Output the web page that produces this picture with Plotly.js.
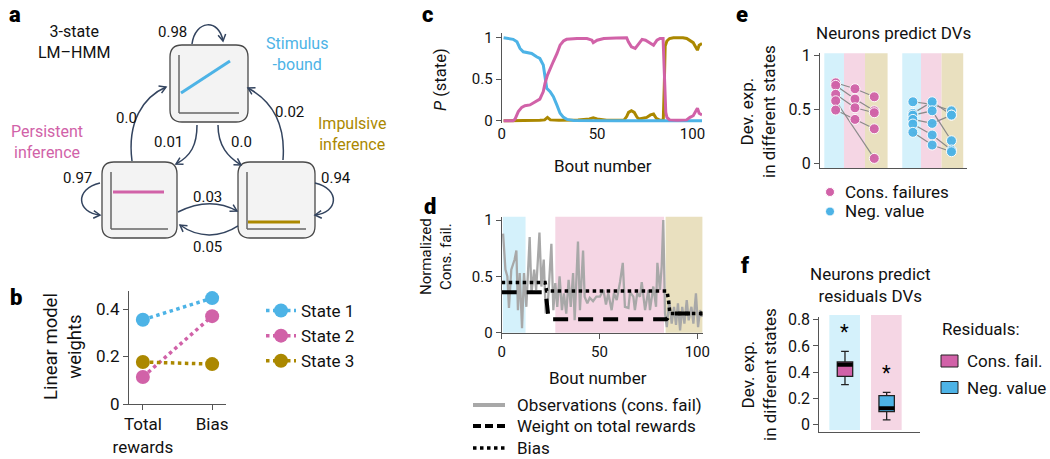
<!DOCTYPE html>
<html><head><meta charset="utf-8">
<script src="https://cdn.plot.ly/plotly-3.0.1.min.js"></script>
<style>html,body{margin:0;padding:0;background:#fff;} #chart{width:1050px;height:459px;}</style>
</head><body><div id="chart"></div>
<script>
// ================= DATA =================
// Panel b: linear model weights per state
const weightCategories = ['Total rewards', 'Bias'];
const weightTickLabels = ['Total<br>rewards', 'Bias'];
const stateNames = ['State 1', 'State 2', 'State 3'];
const state1Weights = [0.355, 0.446];
const state2Weights = [0.114, 0.37];
const state3Weights = [0.177, 0.168];

// Panel c: posterior state probabilities vs bout number
const pBoutS1 = [1, 3, 6, 8, 9.6, 11.3, 13, 15.7, 18.3, 20, 21.8, 22.7, 23.6, 25.4, 27.1, 28.9, 30.6, 32.4, 34.2, 37.7, 45, 60, 80, 90, 100, 105];
const pS1 = [1.0, 0.995, 0.98, 0.95, 0.87, 0.83, 0.82, 0.81, 0.77, 0.75, 0.67, 0.53, 0.39, 0.35, 0.29, 0.19, 0.09, 0.04, 0.016, 0.004, 0, 0, 0, 0, 0, 0];
const pBoutS2 = [1, 6, 7, 8.7, 10.5, 12.2, 14.8, 17.5, 20, 21.8, 22.7, 24, 25.4, 27, 29, 30.6, 32.4, 34, 39.5, 44.7, 47.3, 48, 50, 53.5, 60, 65.5, 66.4, 68, 70, 72, 73.6, 75.4, 78, 79.6, 81.4, 83, 84.6, 85.2, 86, 86.6, 88, 92, 96.9, 98.7, 100.4, 102.6, 103.5, 105];
const pS2 = [0, 0, 0.02, 0.11, 0.16, 0.18, 0.19, 0.23, 0.26, 0.35, 0.45, 0.55, 0.63, 0.71, 0.81, 0.91, 0.96, 0.98, 0.99, 0.99, 0.97, 0.94, 0.97, 0.99, 0.995, 1.0, 0.95, 0.89, 0.87, 0.93, 0.98, 0.97, 0.93, 0.91, 0.97, 0.99, 0.99, 0.6, 0.1, 0.04, 0.01, 0.005, 0.01, 0.04, 0.06, 0.15, 0.09, 0.07];
const pBoutS3 = [1, 6, 20, 22.5, 24, 25.5, 30, 40, 46, 48, 50, 55, 64, 65.5, 66.5, 68, 69.5, 71, 72, 76, 78, 79.6, 81, 83, 84.7, 85.2, 85.7, 86.6, 88, 90, 95, 97, 98.7, 100.4, 102.6, 103.5, 105];
const pS3 = [0, 0, 0.005, 0.01, 0.04, 0.01, 0.005, 0.01, 0.02, 0.035, 0.02, 0.005, 0.005, 0.05, 0.1, 0.12, 0.1, 0.04, 0.02, 0.04, 0.07, 0.08, 0.03, 0.005, 0.01, 0.4, 0.9, 0.96, 0.99, 1.0, 1.0, 0.99, 0.96, 0.94, 0.85, 0.91, 0.93];

// Panel d: observations and model weights
const obsBout = [0.7,1.9,2.9,3.7,4.9,6.6,7.5,8.3,9.2,10.4,11.4,12.6,14.3,15.2,16.6,17.6,19.3,20.3,21.5,22.5,23.7,25.4,26.4,27.4,28.4,29.6,30.8,31.8,33,34.2,35.3,36.5,37.3,39,40,41.6,42.4,43.8,45,46.7,48.4,50.2,52,53.3,54.5,56.2,57.4,58.8,60.5,61.9,63,64.8,65.6,67.3,68.1,69.3,70.7,71.6,73.3,75,75.8,77.5,78.9,79.6,80.9,81.8,82.6,83.5,84.4,85.7,86.9,88.1,89.1,90.1,91.2,92.3,93.4,94.6,95.6,97,98,99.3,100.4,101.4,102.4];
const obsValue = [0.88,0.56,0.50,0.22,0.56,0.65,0.73,0.20,0.53,0.04,0.53,0.23,0.85,0.35,0.56,0.38,0.89,0.41,0.65,0.17,0.29,0.79,0.20,0.44,0.23,0.50,0.20,0.35,0.17,0.47,0.23,0.53,0.11,0.81,0.20,0.73,0.32,0.26,0.31,0.28,0.32,0.32,0.38,0.25,0.35,0.20,0.35,0.29,0.45,0.62,0.23,0.22,0.36,0.32,0.20,0.35,0.32,0.45,0.20,0.38,0.20,0.41,0.23,0.62,0.38,0.59,1.0,0.17,0.05,0.29,0.08,0.23,0.07,0.26,0.02,0.23,0.08,0.29,0.11,0.23,0.08,0.35,0.05,0.20,0.14];
const rewardWeightBout = [0, 22, 22.6, 23.2, 24, 84.2, 84.8, 85.5, 86.2, 102.7];
const rewardWeightValue = [0.36, 0.36, 0.34, 0.2, 0.12, 0.12, 0.13, 0.16, 0.17, 0.17];
const biasBout = [0, 22.2, 23, 84.5, 85.2, 86, 102.7];
const biasValue = [0.445, 0.445, 0.37, 0.37, 0.3, 0.17, 0.17];
const stateSegStart = [0.6, 27.4, 83.8];
const stateSegEnd = [12.2, 83.0, 102.7];
const legendLabelsD = ['Observations (cons. fail)', 'Weight on total rewards', 'Bias'];

// Panel e: deviance explained per neuron in each state
const consFailS1 = [0.748, 0.724, 0.641, 0.581, 0.495];
const consFailS2 = [0.693, 0.597, 0.516, null, 0.408];
const consFailS3 = [0.618, 0.488, 0.470, 0.046, 0.321];
const negValueS1 = [0.572, 0.464, 0.448, 0.408, 0.365, 0.288];
const negValueS2 = [0.548, 0.572, 0.488, 0.371, 0.263, 0.170];
const negValueS3 = [0.488, 0.448, 0.210, 0.448, 0.124, 0.108];
const consFailPositions = [1, 2, 3];
const negValuePositions = [5, 6, 7];
const eBandStart = [0.41, 1.43, 2.52, 4.45, 5.42, 6.49];
const eBandEnd = [1.43, 2.52, 3.69, 5.42, 6.49, 7.61];
const legendLabelsE = ['Cons. failures', 'Neg. value'];

// Panel f: residual deviance explained boxes
const residualNames = ['Cons. fail.', 'Neg. value'];
const residualQ1 = [0.367, 0.097];
const residualMedian = [0.456, 0.123];
const residualQ3 = [0.477, 0.220];
const residualLow = [0.303, 0.033];
const residualHigh = [0.559, 0.244];

// ================= STYLE / LAYOUT =================
const W = 1050, H = 459;
const FONT = 'Roboto, "Liberation Sans", sans-serif';
const TXT = '#111';
const C_BLUE = '#4db3e6', C_PINK = '#d162a8', C_GOLD = '#ab8800';
const SH_BLUE = '#d4f1fb', SH_PINK = '#f5d6e4', SH_GOLD = '#e9e0bf';
const stateColors = [C_BLUE, C_PINK, C_GOLD];
const shadeColors = [SH_BLUE, SH_PINK, SH_GOLD];
const AX = '#555';
const X = px => px / W;
const Y = py => 1 - py / H;
const pt = (x, y) => (x / W).toFixed(5) + ',' + (1 - y / H).toFixed(5);

const traces = [];

// ---- panel b ----
[state1Weights, state2Weights, state3Weights].forEach((w, i) => {
  traces.push({
    x: weightCategories, y: w, name: stateNames[i], type: 'scatter', mode: 'lines+markers',
    line: {color: stateColors[i], width: 3.5, dash: 'dot'},
    marker: {color: stateColors[i], size: 14},
    xaxis: 'x', yaxis: 'y', cliponaxis: false, showlegend: true
  });
});

// ---- panel c ----
[[pBoutS3, pS3, C_GOLD], [pBoutS1, pS1, C_BLUE], [pBoutS2, pS2, C_PINK]].forEach(s => {
  traces.push({x: s[0], y: s[1], type: 'scatter', mode: 'lines', line: {color: s[2], width: 3},
    xaxis: 'x2', yaxis: 'y2', showlegend: false, hoverinfo: 'skip'});
});

// ---- panel d ----
traces.push({x: obsBout, y: obsValue, type: 'scatter', mode: 'lines', line: {color: '#a8a8a8', width: 2.3},
  xaxis: 'x3', yaxis: 'y3', showlegend: false});
traces.push({x: rewardWeightBout, y: rewardWeightValue, type: 'scatter', mode: 'lines', line: {color: '#000', width: 4, dash: '15px,10px'},
  xaxis: 'x3', yaxis: 'y3', showlegend: false});
traces.push({x: biasBout, y: biasValue, type: 'scatter', mode: 'lines', line: {color: '#000', width: 3.5, dash: 'dot'},
  xaxis: 'x3', yaxis: 'y3', showlegend: false});

// ---- panel e ----
function neuronTraces(s1, s2, s3, pos, color) {
  for (let k = 0; k < s1.length; k++) {
    traces.push({x: pos, y: [s1[k], s2[k], s3[k]], type: 'scatter', mode: 'lines', connectgaps: true,
      line: {color: '#8a8a8a', width: 1.2}, xaxis: 'x4', yaxis: 'y4', showlegend: false});
  }
  [s1, s2, s3].forEach((vals, j) => {
    traces.push({x: vals.map(() => pos[j]), y: vals, type: 'scatter', mode: 'markers',
      marker: {color: color, size: 10, opacity: 0.95, line: {color: '#fff', width: 1}},
      xaxis: 'x4', yaxis: 'y4', showlegend: false, cliponaxis: false});
  });
}
neuronTraces(consFailS1, consFailS2, consFailS3, consFailPositions, C_PINK);
neuronTraces(negValueS1, negValueS2, negValueS3, negValuePositions, C_BLUE);

// ---- panel f ----
const boxFill = [C_PINK, C_BLUE];
residualNames.forEach((n, i) => {
  traces.push({type: 'box', name: n, x: [i + 1], q1: [residualQ1[i]], median: [residualMedian[i]], q3: [residualQ3[i]],
    lowerfence: [residualLow[i]], upperfence: [residualHigh[i]], width: 0.37, whiskerwidth: 0.5,
    fillcolor: boxFill[i], line: {color: '#222', width: 1.3}, boxpoints: false,
    xaxis: 'x5', yaxis: 'y5', showlegend: false});
  traces.push({x: [i + 1 - 0.185, i + 1 + 0.185], y: [residualMedian[i], residualMedian[i]], type: 'scatter', mode: 'lines',
    line: {color: '#000', width: 4}, xaxis: 'x5', yaxis: 'y5', showlegend: false});
});

// ================= SHAPES =================
const shapes = [];
// panel d state shading
stateSegStart.forEach((s, i) => shapes.push({type: 'rect', xref: 'x3', yref: 'y3 domain', x0: s, x1: stateSegEnd[i], y0: 0, y1: 1,
  fillcolor: shadeColors[i], line: {width: 0}, layer: 'below'}));
// panel e shading
eBandStart.forEach((s, i) => shapes.push({type: 'rect', xref: 'x4', yref: 'y4 domain', x0: s, x1: eBandEnd[i], y0: 0, y1: 1,
  fillcolor: shadeColors[i % 3], line: {width: 0}, layer: 'below'}));
// panel f shading
[0, 1].forEach(i => shapes.push({type: 'rect', xref: 'x5', yref: 'y5 domain', x0: i + 1 - 0.375, x1: i + 1 + 0.36, y0: 0.015, y1: 1.015,
  fillcolor: shadeColors[i], line: {width: 0}, layer: 'below'}));

// panel a diagram
function rrect(x0, y0, x1, y1, r) {
  return 'M' + pt(x0 + r, y0) + ' L' + pt(x1 - r, y0) + ' Q' + pt(x1, y0) + ' ' + pt(x1, y0 + r) +
    ' L' + pt(x1, y1 - r) + ' Q' + pt(x1, y1) + ' ' + pt(x1 - r, y1) +
    ' L' + pt(x0 + r, y1) + ' Q' + pt(x0, y1) + ' ' + pt(x0, y1 - r) +
    ' L' + pt(x0, y0 + r) + ' Q' + pt(x0, y0) + ' ' + pt(x0 + r, y0) + ' Z';
}
function pline(x0, y0, x1, y1, color, width) {
  return {type: 'line', xref: 'paper', yref: 'paper', x0: X(x0), y0: Y(y0), x1: X(x1), y1: Y(y1), line: {color: color, width: width}};
}
const boxes = [[170, 45, 248, 122, C_BLUE, 'rise'], [102, 162, 177, 238, C_PINK, 'flat'], [238, 162, 315, 238, C_GOLD, 'low']];
boxes.forEach(b => {
  const [x0, y0, x1, y1, col, kind] = b;
  shapes.push({type: 'path', xref: 'paper', yref: 'paper', path: rrect(x0, y0, x1, y1, 12), fillcolor: '#f3f3f3', line: {color: '#4a4a4a', width: 1.3}});
  shapes.push(pline(x0 + 9, y0 + 10, x0 + 9, y1 - 9, '#666', 1.5));
  shapes.push(pline(x0 + 9, y1 - 9, x1 - 9, y1 - 9, '#666', 1.5));
  if (kind === 'rise') shapes.push(pline(x0 + 11, y0 + 48, x1 - 18, y0 + 16, col, 3));
  if (kind === 'flat') shapes.push(pline(x0 + 11, y0 + 30, x1 - 13, y0 + 30, col, 3));
  if (kind === 'low') shapes.push(pline(x0 + 10, y0 + 60, x1 - 15, y0 + 60, col, 3));
});
const ARROW = '#33445f';
function curvedArrow(p) {
  const [x0, y0, c1x, c1y, c2x, c2y, x1, y1] = p;
  let dx = x1 - c2x, dy = y1 - c2y; const len = Math.hypot(dx, dy); dx /= len; dy /= len;
  const L = 6.5, Wd = 3.8, nx = -dy, ny = dx;
  const bx = x1 - dx * L, by = y1 - dy * L;
  shapes.push({type: 'path', xref: 'paper', yref: 'paper', line: {color: ARROW, width: 1.5},
    path: 'M' + pt(x0, y0) + ' C' + pt(c1x, c1y) + ' ' + pt(c2x, c2y) + ' ' + pt(x1, y1)});
  shapes.push({type: 'path', xref: 'paper', yref: 'paper', line: {color: ARROW, width: 1.5},
    path: 'M' + pt(bx + nx * Wd, by + ny * Wd) + ' L' + pt(x1, y1) + ' L' + pt(bx - nx * Wd, by - ny * Wd)});
}
[
  [192, 44, 195, 20, 219, 18, 223, 41],
  [132, 161, 127, 122, 143, 97, 166, 87],
  [197, 125, 197, 145, 191, 156, 176, 164],
  [218, 125, 218, 146, 228, 157, 241, 165],
  [283, 160, 286, 122, 270, 100, 248, 88],
  [100, 183, 74, 189, 77, 213, 100, 215],
  [315, 183, 341, 189, 338, 213, 315, 215],
  [178, 212, 200, 201, 219, 201, 237, 211],
  [238, 226, 220, 238, 198, 238, 180, 225]
].forEach(curvedArrow);

// manual legends (d, e, f)
const legYD = [405, 426, 448];
shapes.push(pline(473, legYD[0], 505, legYD[0], '#a8a8a8', 4));
shapes.push(Object.assign(pline(473, legYD[1], 505, legYD[1], '#000', 4), {line: {color: '#000', width: 4, dash: '8px,4px'}}));
shapes.push(Object.assign(pline(473, legYD[2], 505, legYD[2], '#000', 3.5), {line: {color: '#000', width: 3.5, dash: 'dot'}}));
const legYE = [192, 211.5];
[C_PINK, C_BLUE].forEach((c, i) => shapes.push({type: 'circle', xref: 'paper', yref: 'paper', x0: X(825.5), x1: X(834.5), y0: Y(legYE[i] + 4.5), y1: Y(legYE[i] - 4.5),
  fillcolor: c, line: {color: '#fff', width: 1}}));
const legYF = [361, 387.5];
[C_PINK, C_BLUE].forEach((c, i) => shapes.push({type: 'rect', xref: 'paper', yref: 'paper', x0: X(941), x1: X(958), y0: Y(legYF[i] + 6), y1: Y(legYF[i] - 6),
  fillcolor: c, line: {color: '#222', width: 1}}));

// ================= ANNOTATIONS =================
const anns = [];
function ann(text, px, py, size, opts) {
  anns.push(Object.assign({xref: 'paper', yref: 'paper', x: X(px), y: Y(py), text: text, showarrow: false,
    xanchor: 'center', yanchor: 'middle', font: {family: FONT, size: size, color: TXT}}, opts || {}));
}
// panel letters
[['a', 15, 15], ['b', 16, 297], ['c', 427, 15], ['d', 430, 207], ['e', 742, 15], ['f', 745, 265]].forEach(l =>
  ann(l[0], l[1], l[2], 22, {font: {family: 'Roboto, "DejaVu Sans", sans-serif', size: 22, color: '#000', weight: 900}}));
// panel a texts
ann('3-state<br>LM–HMM', 74, 42, 16);
ann('Stimulus<br>-bound', 297, 54, 16, {font: {family: FONT, size: 16, color: C_BLUE}});
ann('Persistent<br>inference', 47, 142, 16, {font: {family: FONT, size: 16, color: C_PINK}});
ann('Impulsive<br>inference', 352, 134, 16, {font: {family: FONT, size: 16, color: C_GOLD}});
[['0.98', 172, 32], ['0.0', 126, 118], ['0.01', 168, 142], ['0.0', 241, 142], ['0.02', 289, 112],
 ['0.97', 77, 178], ['0.94', 336, 178], ['0.03', 207, 197], ['0.05', 207, 247]].forEach(t => ann(t[0], t[1], t[2], 15));
// axis titles
ann('Linear model<br>weights', 63, 347, 18.5, {textangle: -90});
ann('<i>P</i> (state)', 440, 80, 16.5, {textangle: -90});
ann('Bout number', 603, 166, 17);
ann('Normalized<br>Cons. fail.', 436, 257, 15, {textangle: -90});
ann('Bout number', 598, 378, 17);
ann('Neurons predict DVs', 893, 33, 17);
ann('Dev. exp.<br>in different states', 758, 112, 17, {textangle: -90});
ann('Neurons predict<br>residuals DVs', 870, 285, 17);
ann('Dev. exp.<br>in different states', 759, 375, 17, {textangle: -90});
// legends d, e, f text
legendLabelsD.forEach((t, i) => ann(t, 515, legYD[i], 17, {xanchor: 'left'}));
legendLabelsE.forEach((t, i) => ann(t, 843, legYE[i], 17, {xanchor: 'left'}));
ann('Residuals:', 940, 329, 17, {xanchor: 'left'});
residualNames.forEach((t, i) => ann(t, 965, legYF[i], 17, {xanchor: 'left'}));
// significance stars
residualHigh.forEach((h, i) => anns.push({xref: 'x5', yref: 'y5', x: i + 1, y: h + 0.15, text: '*', showarrow: false,
  font: {family: FONT, size: 20, color: '#000'}}));

// ================= AXES =================
function axis(extra) {
  return Object.assign({showgrid: false, zeroline: false, showline: true, linecolor: AX, linewidth: 1,
    ticks: 'outside', ticklen: 5, tickcolor: AX, tickwidth: 1, fixedrange: true,
    tickfont: {family: FONT, size: 15, color: TXT}}, extra);
}
const layout = {
  width: W, height: H, margin: {l: 0, r: 0, t: 0, b: 0},
  paper_bgcolor: '#fff', plot_bgcolor: 'rgba(0,0,0,0)',
  font: {family: FONT, color: TXT},
  showlegend: true,
  legend: {x: X(261), y: Y(293), xanchor: 'left', yanchor: 'top', bgcolor: 'rgba(0,0,0,0)',
    font: {family: FONT, size: 17, color: TXT}, itemwidth: 30, tracegroupgap: 0},
  // b
  xaxis: axis({domain: [X(129), X(226)], anchor: 'y', type: 'category', range: [-0.2, 1.2],
    tickvals: weightCategories, ticktext: weightTickLabels, tickfont: {family: FONT, size: 17, color: TXT}}),
  yaxis: axis({domain: [Y(404), Y(291)], anchor: 'x', range: [0, 0.476], tickvals: [0, 0.2, 0.4], ticktext: ['0', '0.2', '0.4'],
    tickfont: {family: FONT, size: 17, color: TXT}}),
  // c
  xaxis2: axis({domain: [X(501.7), X(702)], anchor: 'y2', range: [0, 105], showline: false, ticks: '',
    tickvals: [0, 50, 100], ticktext: ['0', '50', '100']}),
  yaxis2: axis({domain: [Y(123.2), Y(32.7)], anchor: 'x2', range: [-0.03, 1.06], tickvals: [0, 0.5, 1], ticktext: ['0', '0.5', '1']}),
  // d
  xaxis3: axis({domain: [X(501.7), X(702.7)], anchor: 'y3', range: [0, 102.76], tickvals: [0, 50, 100], ticktext: ['0', '50', '100']}),
  yaxis3: axis({domain: [Y(332.7), Y(216.7)], anchor: 'x3', range: [0, 1.03], tickvals: [0, 0.5, 1], ticktext: ['0', '0.5', '1']}),
  // e
  xaxis4: axis({domain: [X(820), X(966.7)], anchor: 'y4', range: [0.187, 7.79], ticks: '', showticklabels: false}),
  yaxis4: axis({domain: [Y(168.3), Y(53.3)], anchor: 'x4', range: [-0.046, 1.022], tickvals: [0, 0.5, 1], ticktext: ['0', '0.5', '1'],
    tickfont: {family: FONT, size: 16, color: TXT}}),
  // f
  xaxis5: axis({domain: [X(819.3), X(920)], anchor: 'y5', range: [0.384, 2.8], ticks: '', showticklabels: false}),
  yaxis5: axis({domain: [Y(431.7), Y(316.7)], anchor: 'x5', range: [-0.057, 0.824], tickvals: [0, 0.2, 0.4, 0.6, 0.8],
    ticktext: ['0', '0.2', '0.4', '0.6', '0.8'], tickfont: {family: FONT, size: 16, color: TXT}}),
  shapes: shapes,
  annotations: anns
};

Plotly.newPlot('chart', traces, layout, {displayModeBar: false, staticPlot: true});
</script>
</body></html>
